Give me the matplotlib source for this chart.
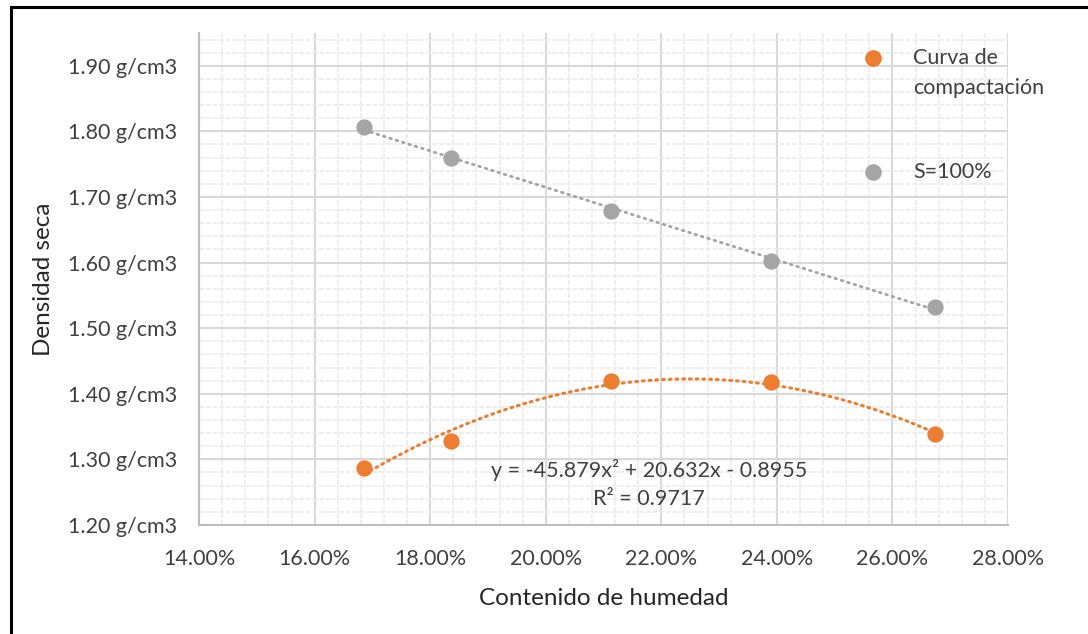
import numpy as np
import matplotlib
matplotlib.use('Agg')
import matplotlib.pyplot as plt
from matplotlib.ticker import MultipleLocator, FuncFormatter
from matplotlib.lines import Line2D
from matplotlib.patches import Rectangle

# humedad (fraccion) y densidad seca (g/cm3)
humedad = [0.1686, 0.1836, 0.2113, 0.2390, 0.2673]
densidad = [1.287, 1.328, 1.419, 1.418, 1.338]
densidad_s100 = [1.806, 1.760, 1.678, 1.603, 1.533]

eq_label = "y = -45.879x² + 20.632x - 0.8955\nR² = 0.9717"

orange = '#ED7D31'
gray = '#A5A5A5'

plt.rcParams['font.family'] = ['Lato', 'DejaVu Sans']

W, H = 1088, 634
fig = plt.figure(figsize=(W / 100, H / 100), dpi=100)
ax = fig.add_axes([0.183, 0.172, 0.7435, 0.776])

# trendlines
xs = np.linspace(min(humedad), max(humedad), 200)
p2 = np.polyfit(humedad, densidad, 2)
ax.plot(xs, np.polyval(p2, xs), color=orange, lw=2.2, ls=(0, (0.6, 1.6)),
        dash_capstyle='round', zorder=3)
p1 = np.polyfit(humedad, densidad_s100, 1)
ax.plot(xs, np.polyval(p1, xs), color=gray, lw=2.0, ls=(0, (0.6, 1.8)),
        dash_capstyle='round', zorder=3)

ax.scatter(humedad, densidad, s=115, color=orange, zorder=4)
ax.scatter(humedad, densidad_s100, s=115, color=gray, zorder=4)

ax.text(0.2178, 1.262, eq_label, ha='center', va='center', fontsize=15.5,
        color='#404040', linespacing=1.5, zorder=5)

ax.set_xlim(0.14, 0.28)
ax.set_ylim(1.20, 1.95)
ax.xaxis.set_major_locator(MultipleLocator(0.02))
ax.xaxis.set_minor_locator(MultipleLocator(0.004))
ax.yaxis.set_major_locator(MultipleLocator(0.10))
ax.yaxis.set_minor_locator(MultipleLocator(0.02))
ax.xaxis.set_major_formatter(FuncFormatter(lambda v, p: f"{v*100:.2f}%"))
ax.yaxis.set_major_formatter(FuncFormatter(lambda v, p: f"{v:.2f} g/cm3" if v < 1.94 else ""))

ax.grid(which='major', color='#d9d9d9', lw=1.5)
ax.grid(which='minor', color='#ebebeb', lw=1.2, ls=(0, (3, 1)))
ax.set_axisbelow(True)
ax.tick_params(which='both', length=0, labelsize=15.5, colors='#404040')
ax.tick_params(axis='y', pad=16)
ax.tick_params(axis='x', pad=17)
for side in ['top', 'right']:
    ax.spines[side].set_visible(False)
for side in ['left', 'bottom']:
    ax.spines[side].set_color('#bfbfbf')
    ax.spines[side].set_linewidth(1.5)

ax.set_xlabel('Contenido de humedad', fontsize=17.5, color='#262626', labelpad=14)
ax.set_ylabel('Densidad seca', fontsize=17.5, color='#262626', labelpad=10)

# legend drawn by hand so the marker sits on the first text line
leg_items = [(orange, ['Curva de', 'compactación'], 58), (gray, ['S=100%'], 172)]
for col, lines, ypx in leg_items:
    fig.add_artist(Line2D([873 / W], [1 - ypx / H], marker='o', ls='',
                          color=col, markersize=11, transform=fig.transFigure))
    for i, txt in enumerate(lines):
        fig.text(913 / W, 1 - (ypx + 30 * i) / H, txt, fontsize=15.5,
                 color='#404040', ha='left', va='center')

# outer border (left and top visible)
fig.patches.append(Rectangle((11 / W, -0.1), 1.2, 1 - 7 / H + 0.1,
                             transform=fig.transFigure, fill=False,
                             edgecolor='black', lw=2.2))

fig.savefig('out.png', dpi=100)
